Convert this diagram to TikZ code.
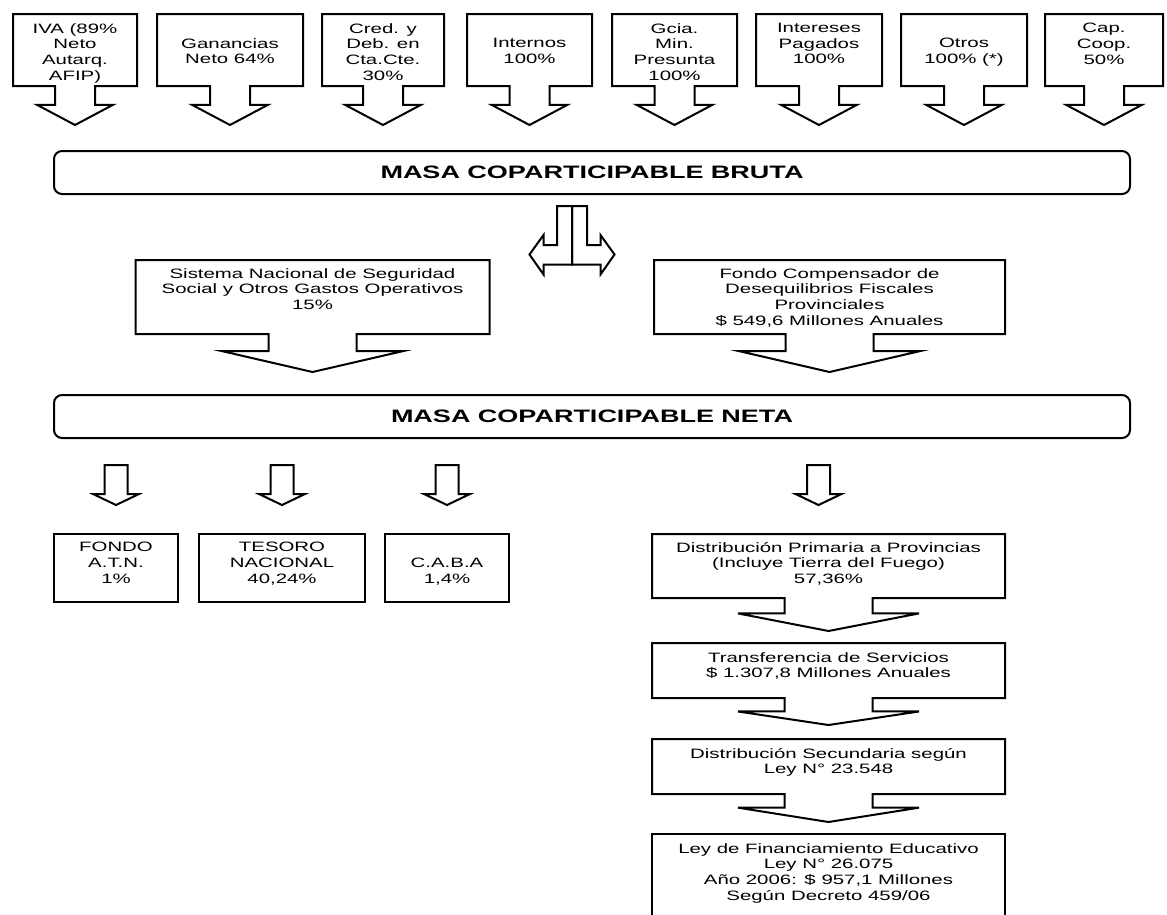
\documentclass[tikz,border=0pt]{standalone}
\usepackage{fontspec}
\setmainfont{Liberation Sans}[FakeStretch=1.5]
\usetikzlibrary{calc}
\usetikzlibrary{shapes.arrows}

\begin{document}
\begin{tikzpicture}[x=1pt, y=-1pt,
  box/.style={draw, line width=2pt, inner sep=0pt},
  drop/.style={box, arrow box, arrow box arrows={south:#1}},
  topbox/.style={drop=38pt, minimum height=72pt, arrow box shaft width=40pt, arrow box head extend=18pt, arrow box tip angle=124},
  widebox/.style={drop=#1, arrow box shaft width=88pt, arrow box head extend=46.5pt},
  masa/.style={draw, line width=2pt, rounded corners=8pt, minimum width=1076pt, minimum height=43pt, font=\fontsize{18}{21}\selectfont\bfseries},
  txt/.style={align=center, inner sep=0pt, anchor=north, font=\fontsize{13.6}{15.7}\selectfont},
  blk/.style={draw, line width=2pt}]
\useasboundingbox (0,0) rectangle (1167,914);
% impuestos
\foreach \nm/\cx/\bw/\gap/\lbl in {
  iva/75/124/10/{IVA (89\%\\Neto\\Autarq.\\AFIP)},
  gan/230/146/25/{Ganancias\\Neto 64\%},
  cred/383/122/10/{Cred. y\\Deb. en\\Cta.Cte.\\30\%},
  int/529.5/125/25/{Internos\\100\%},
  gcia/674.5/125/10/{Gcia.\\Min.\\Presunta\\100\%},
  intp/819/126/10/{Intereses\\Pagados\\100\%},
  otr/964/126/25/{Otros\\100\% (*)},
  cap/1104/118/10/{Cap.\\Coop.\\50\%}} {
  \node[topbox, minimum width=\bw, anchor=north] (\nm) at (\cx,13) {};
  \node[txt] (\nm-t) at ($(\nm.north)+(0,\gap)$) {\lbl};
}
\node[masa, anchor=north] (bruta) at (592,150) {MASA COPARTICIPABLE BRUTA};
% flecha doble
\coordinate (split) at ($(bruta.south)+(-20,11)$);
\draw[blk] (split) --++(-15,0) --++(0,39) --++(-13.5,0) --++(0,-10) --++(-14,19.5) --++(14,20) --++(0,-10) --++(28.5,0) -- cycle;
\draw[blk] (split) --++(15,0) --++(0,39) --++(13.5,0) --++(0,-10) --++(14,19.5) --++(-14,20) --++(0,-10) --++(-28.5,0) -- cycle;
\node[widebox=37pt, arrow box tip angle=154, minimum width=354, minimum height=74, anchor=north] (ssn) at (312.5,259) {};
\node[txt] (ssn-t) at ($(ssn.north)+(0,9)$) {Sistema Nacional de Seguridad\\Social y Otros Gastos Operativos\\15\%};
\node[widebox=37pt, arrow box tip angle=154, minimum width=351, minimum height=74, anchor=north] (fcd) at (829.5,259) {};
\node[txt] (fcd-t) at ($(fcd.north)+(0,9)$) {Fondo Compensador de\\Desequilibrios Fiscales\\Provinciales\\\$ 549,6 Millones Anuales};
\node[masa, anchor=north] (neta) at (592,394) {MASA COPARTICIPABLE NETA};
% destinos
\node[box, minimum width=124, minimum height=68, anchor=north] (atn) at (116,533) {};
\node[txt] (atn-t) at ($(atn.north)+(0,9)$) {FONDO\\A.T.N.\\1\%};
\node[box, minimum width=166, minimum height=68, anchor=north] (tes) at (282,533) {};
\node[txt] (tes-t) at ($(tes.north)+(0,9)$) {TESORO\\NACIONAL\\40,24\%};
\node[box, minimum width=124, minimum height=68, anchor=north] (caba) at (447,533) {};
\node[txt] (caba-t) at ($(caba.north)+(0,25)$) {C.A.B.A\\1,4\%};
\node[widebox=32pt, arrow box tip angle=158, minimum width=353, minimum height=64, anchor=north] (dist) at (828.5,533) {};
\node[txt] (dist-t) at ($(dist.north)+(0,9)$) {Distribución Primaria a Provincias\\(Incluye Tierra del Fuego)\\57,36\%};
\node[widebox=26pt, arrow box tip angle=163, minimum width=353, minimum height=55, anchor=north] (trans) at (828.5,642) {};
\node[txt] (trans-t) at ($(trans.north)+(0,10)$) {Transferencia de Servicios\\\$ 1.307,8 Millones Anuales};
\node[widebox=27pt, arrow box tip angle=162, minimum width=353, minimum height=55, anchor=north] (sec) at (828.5,738) {};
\node[txt] (sec-t) at ($(sec.north)+(0,10)$) {Distribución Secundaria según\\Ley N° 23.548};
\node[box, minimum width=353, minimum height=92, anchor=north] (ley) at (828.5,833) {};
\node[txt] (ley-t) at ($(ley.north)+(0,10)$) {Ley de Financiamiento Educativo\\Ley N° 26.075\\Año 2006: \$ 957,1 Millones\\Según Decreto 459/06};
% flechas chicas
\foreach \nm/\dx in {atn/0, tes/0, caba/0, dist/-10} {
  \draw[blk] ($(\nm.north)+(\dx-11.5,-68)$) --++(0,29) --++(-11.5,0) --++(23,11) --++(23,-11) --++(-11.5,0) --++(0,-29) -- cycle;
}
\end{tikzpicture}
\end{document}
